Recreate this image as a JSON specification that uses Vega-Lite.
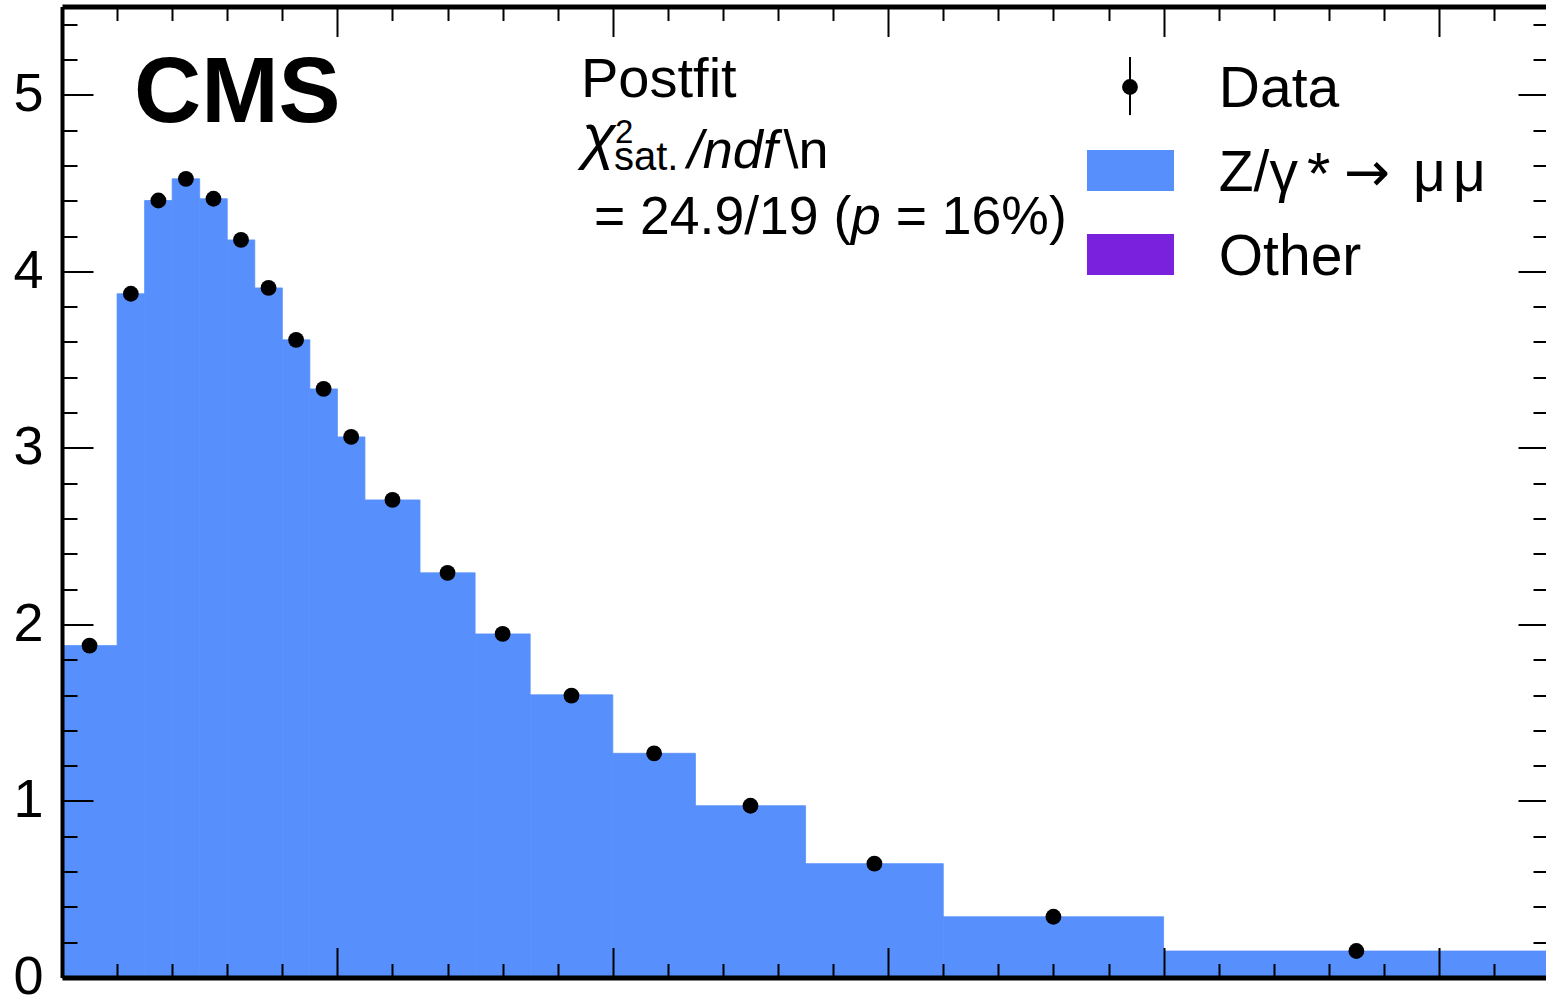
{
  "$schema": "https://vega.github.io/schema/vega-lite/v6.json",
  "width": 1484,
  "height": 971,
  "autosize": "none",
  "padding": {"left": 62, "top": 6.5, "right": 0, "bottom": 20.5},
  "background": "white",
  "config": {
    "view": {"stroke": null},
    "font": "Liberation Sans",
    "axis": {"grid": false, "title": null, "tickColor": "black", "domainColor": "black", "labelColor": "black", "labelFont": "Liberation Sans"}
  },
  "datasets": {
    "bins": [
      {"lo": 0, "hi": 2, "mid": 1, "model": 1.880, "data": 1.880},
      {"lo": 2, "hi": 3, "mid": 2.5, "model": 3.873, "data": 3.873},
      {"lo": 3, "hi": 4, "mid": 3.5, "model": 4.401, "data": 4.401},
      {"lo": 4, "hi": 5, "mid": 4.5, "model": 4.524, "data": 4.524},
      {"lo": 5, "hi": 6, "mid": 5.5, "model": 4.411, "data": 4.411},
      {"lo": 6, "hi": 7, "mid": 6.5, "model": 4.178, "data": 4.178},
      {"lo": 7, "hi": 8, "mid": 7.5, "model": 3.906, "data": 3.906},
      {"lo": 8, "hi": 9, "mid": 8.5, "model": 3.612, "data": 3.612},
      {"lo": 9, "hi": 10, "mid": 9.5, "model": 3.334, "data": 3.334},
      {"lo": 10, "hi": 11, "mid": 10.5, "model": 3.062, "data": 3.062},
      {"lo": 11, "hi": 13, "mid": 12, "model": 2.705, "data": 2.705},
      {"lo": 13, "hi": 15, "mid": 14, "model": 2.292, "data": 2.292},
      {"lo": 15, "hi": 17, "mid": 16, "model": 1.946, "data": 1.946},
      {"lo": 17, "hi": 20, "mid": 18.5, "model": 1.601, "data": 1.597},
      {"lo": 20, "hi": 23, "mid": 21.5, "model": 1.270, "data": 1.270},
      {"lo": 23, "hi": 27, "mid": 25, "model": 0.973, "data": 0.973},
      {"lo": 27, "hi": 32, "mid": 29.5, "model": 0.645, "data": 0.645},
      {"lo": 32, "hi": 40, "mid": 36, "model": 0.344, "data": 0.344},
      {"lo": 40, "hi": 54, "mid": 47, "model": 0.150, "data": 0.150}
    ],
    "one": [{}]
  },
  "resolve": {"axis": {"x": "independent", "y": "independent"}},
  "layer": [
    {
      "data": {"name": "bins"},
      "mark": {"type": "rect", "color": "#5790fc", "stroke": "#5790fc", "strokeWidth": 0.8},
      "encoding": {
        "x": {"field": "lo", "type": "quantitative", "scale": {"domain": [0, 53.886], "nice": false, "zero": false},
              "axis": {"orient": "bottom", "zindex": 1, "values": [0, 10, 20, 30, 40, 50], "tickSize": -30, "tickWidth": 2, "labels": false, "domainWidth": 5, "title": null}},
        "x2": {"field": "hi"},
        "y": {"field": "model", "type": "quantitative", "scale": {"domain": [0, 5.5], "nice": false, "zero": false},
              "axis": {"orient": "left", "zindex": 1, "values": [0, 1, 2, 3, 4, 5], "tickSize": -31, "tickWidth": 2, "labelFontSize": 54, "labelPadding": 50, "labelFlush": false, "labelOverlap": false, "domainWidth": 4, "title": null}},
        "y2": {"datum": 0}
      }
    },
    {
      "data": {"name": "bins"},
      "mark": {"type": "point", "filled": true, "color": "black", "opacity": 1, "size": 250},
      "encoding": {
        "x": {"field": "mid", "type": "quantitative",
              "axis": {"orient": "top", "zindex": 1, "values": [0, 10, 20, 30, 40, 50], "tickSize": -30, "tickWidth": 2, "labels": false, "domainWidth": 5, "title": null}},
        "y": {"field": "data", "type": "quantitative",
              "axis": {"orient": "right", "zindex": 1, "values": [0, 1, 2, 3, 4, 5], "tickSize": -28, "tickWidth": 2, "labels": false, "domain": false, "title": null}}
      }
    },
    {
      "data": {"name": "bins"},
      "mark": {"type": "point", "opacity": 0},
      "encoding": {
        "x": {"field": "mid", "type": "quantitative",
              "axis": {"orient": "bottom", "zindex": 1, "values": [2, 4, 6, 8, 12, 14, 16, 18, 22, 24, 26, 28, 32, 34, 36, 38, 42, 44, 46, 48, 52], "tickSize": -14, "tickWidth": 2, "labels": false, "domain": false, "title": null}},
        "y": {"field": "data", "type": "quantitative",
              "axis": {"orient": "left", "zindex": 1, "values": [0.2, 0.4, 0.6, 0.8, 1.2, 1.4, 1.6, 1.8, 2.2, 2.4, 2.6, 2.8, 3.2, 3.4, 3.6, 3.8, 4.2, 4.4, 4.6, 4.8, 5.2, 5.4], "tickSize": -15, "tickWidth": 2, "labels": false, "domain": false, "title": null}}
      }
    },
    {
      "data": {"name": "bins"},
      "mark": {"type": "point", "opacity": 0},
      "encoding": {
        "x": {"field": "mid", "type": "quantitative",
              "axis": {"orient": "top", "zindex": 1, "values": [2, 4, 6, 8, 12, 14, 16, 18, 22, 24, 26, 28, 32, 34, 36, 38, 42, 44, 46, 48, 52], "tickSize": -14, "tickWidth": 2, "labels": false, "domain": false, "title": null}},
        "y": {"field": "data", "type": "quantitative",
              "axis": {"orient": "right", "zindex": 1, "values": [0.2, 0.4, 0.6, 0.8, 1.2, 1.4, 1.6, 1.8, 2.2, 2.4, 2.6, 2.8, 3.2, 3.4, 3.6, 3.8, 4.2, 4.4, 4.6, 4.8, 5.2, 5.4], "tickSize": -13, "tickWidth": 2, "labels": false, "domain": false, "title": null}}
      }
    },
    {
      "data": {"name": "one"},
      "mark": {"type": "text", "font": "Liberation Sans", "fontWeight": "bold", "fontSize": 93, "align": "left", "baseline": "alphabetic", "color": "black"},
      "encoding": {"x": {"datum": 2.614, "type": "quantitative", "axis": null}, "y": {"datum": 4.846, "type": "quantitative", "axis": null}, "text": {"value": "CMS"}}
    },
    {
      "data": {"name": "one"},
      "mark": {"type": "text", "font": "Liberation Sans", "fontSize": 56, "align": "left", "baseline": "alphabetic", "color": "black"},
      "encoding": {"x": {"datum": 18.846, "type": "quantitative", "axis": null}, "y": {"datum": 4.987, "type": "quantitative", "axis": null}, "text": {"value": "Postfit"}}
    },
    {
      "data": {"name": "one"},
      "mark": {"type": "text", "font": "Liberation Sans", "fontStyle": "italic", "fontSize": 62, "align": "left", "baseline": "alphabetic", "color": "black"},
      "encoding": {"x": {"datum": 18.88, "type": "quantitative", "axis": null}, "y": {"datum": 4.648, "type": "quantitative", "axis": null}, "text": {"value": "χ"}}
    },
    {
      "data": {"name": "one"},
      "mark": {"type": "text", "font": "Liberation Sans", "fontSize": 33, "align": "left", "baseline": "alphabetic", "color": "black"},
      "encoding": {"x": {"datum": 20.08, "type": "quantitative", "axis": null}, "y": {"datum": 4.727, "type": "quantitative", "axis": null}, "text": {"value": "2"}}
    },
    {
      "data": {"name": "one"},
      "mark": {"type": "text", "font": "Liberation Sans", "fontSize": 40, "align": "left", "baseline": "alphabetic", "color": "black"},
      "encoding": {"x": {"datum": 20.044, "type": "quantitative", "axis": null}, "y": {"datum": 4.574, "type": "quantitative", "axis": null}, "text": {"value": "sat."}}
    },
    {
      "data": {"name": "one"},
      "mark": {"type": "text", "font": "Liberation Sans", "fontStyle": "italic", "fontSize": 54, "align": "left", "baseline": "alphabetic", "color": "black"},
      "encoding": {"x": {"datum": 22.72, "type": "quantitative", "axis": null}, "y": {"datum": 4.585, "type": "quantitative", "axis": null}, "text": {"value": "/ndf"}}
    },
    {
      "data": {"name": "one"},
      "mark": {"type": "text", "font": "Liberation Sans", "fontSize": 54, "align": "left", "baseline": "alphabetic", "color": "black"},
      "encoding": {"x": {"datum": 26.2, "type": "quantitative", "axis": null}, "y": {"datum": 4.585, "type": "quantitative", "axis": null}, "text": {"value": "\\n"}}
    },
    {
      "data": {"name": "one"},
      "mark": {"type": "text", "font": "Liberation Sans", "fontSize": 53.5, "align": "left", "baseline": "alphabetic", "color": "black"},
      "encoding": {"x": {"datum": 19.317, "type": "quantitative", "axis": null}, "y": {"datum": 4.211, "type": "quantitative", "axis": null}, "text": {"value": "= 24.9/19 ("}}
    },
    {
      "data": {"name": "one"},
      "mark": {"type": "text", "font": "Liberation Sans", "fontStyle": "italic", "fontSize": 53.5, "align": "left", "baseline": "alphabetic", "color": "black"},
      "encoding": {"x": {"datum": 28.653, "type": "quantitative", "axis": null}, "y": {"datum": 4.211, "type": "quantitative", "axis": null}, "text": {"value": "p"}}
    },
    {
      "data": {"name": "one"},
      "mark": {"type": "text", "font": "Liberation Sans", "fontSize": 53.5, "align": "left", "baseline": "alphabetic", "color": "black"},
      "encoding": {"x": {"datum": 30.274, "type": "quantitative", "axis": null}, "y": {"datum": 4.211, "type": "quantitative", "axis": null}, "text": {"value": "= 16%)"}}
    },
    {
      "data": {"name": "one"},
      "mark": {"type": "rule", "color": "black", "strokeWidth": 2},
      "encoding": {"x": {"datum": 38.78, "type": "quantitative", "axis": null}, "y": {"datum": 5.214, "type": "quantitative", "axis": null}, "y2": {"datum": 4.885}}
    },
    {
      "data": {"name": "one"},
      "mark": {"type": "point", "filled": true, "color": "black", "opacity": 1, "size": 250},
      "encoding": {"x": {"datum": 38.78, "type": "quantitative", "axis": null}, "y": {"datum": 5.044, "type": "quantitative", "axis": null}}
    },
    {
      "data": {"name": "one"},
      "mark": {"type": "rect", "color": "#5790fc"},
      "encoding": {"x": {"datum": 37.218, "type": "quantitative", "axis": null}, "x2": {"datum": 40.378}, "y": {"datum": 4.687, "type": "quantitative", "axis": null}, "y2": {"datum": 4.455}}
    },
    {
      "data": {"name": "one"},
      "mark": {"type": "rect", "color": "#7a21dd"},
      "encoding": {"x": {"datum": 37.218, "type": "quantitative", "axis": null}, "x2": {"datum": 40.378}, "y": {"datum": 4.211, "type": "quantitative", "axis": null}, "y2": {"datum": 3.979}}
    },
    {
      "data": {"name": "one"},
      "mark": {"type": "text", "font": "Liberation Sans", "fontSize": 57, "align": "left", "baseline": "alphabetic", "color": "black"},
      "encoding": {"x": {"datum": 42.004, "type": "quantitative", "axis": null}, "y": {"datum": 4.931, "type": "quantitative", "axis": null}, "text": {"value": "Data"}}
    },
    {
      "data": {"name": "one"},
      "mark": {"type": "text", "font": "Liberation Sans", "fontSize": 57, "align": "left", "baseline": "alphabetic", "color": "black"},
      "encoding": {"x": {"datum": 42.004, "type": "quantitative", "axis": null}, "y": {"datum": 4.455, "type": "quantitative", "axis": null}, "text": {"value": "Z/γ"}}
    },
    {
      "data": {"name": "one"},
      "mark": {"type": "text", "font": "Liberation Sans", "fontSize": 60, "align": "left", "baseline": "alphabetic", "color": "black"},
      "encoding": {"x": {"datum": 45.207, "type": "quantitative", "axis": null}, "y": {"datum": 4.438, "type": "quantitative", "axis": null}, "text": {"value": "*"}}
    },
    {
      "data": {"name": "one"},
      "mark": {"type": "text", "font": "DejaVu Sans", "fontSize": 55, "align": "left", "baseline": "alphabetic", "color": "black"},
      "encoding": {"x": {"datum": 46.55, "type": "quantitative", "axis": null}, "y": {"datum": 4.455, "type": "quantitative", "axis": null}, "text": {"value": "→"}}
    },
    {
      "data": {"name": "one"},
      "mark": {"type": "text", "font": "Liberation Sans", "fontSize": 57, "align": "left", "baseline": "alphabetic", "color": "black"},
      "encoding": {"x": {"datum": 49.056, "type": "quantitative", "axis": null}, "y": {"datum": 4.455, "type": "quantitative", "axis": null}, "text": {"value": "μ"}}
    },
    {
      "data": {"name": "one"},
      "mark": {"type": "text", "font": "Liberation Sans", "fontSize": 57, "align": "left", "baseline": "alphabetic", "color": "black"},
      "encoding": {"x": {"datum": 50.508, "type": "quantitative", "axis": null}, "y": {"datum": 4.455, "type": "quantitative", "axis": null}, "text": {"value": "μ"}}
    },
    {
      "data": {"name": "one"},
      "mark": {"type": "text", "font": "Liberation Sans", "fontSize": 57, "align": "left", "baseline": "alphabetic", "color": "black"},
      "encoding": {"x": {"datum": 42.004, "type": "quantitative", "axis": null}, "y": {"datum": 3.979, "type": "quantitative", "axis": null}, "text": {"value": "Other"}}
    }
  ]
}
